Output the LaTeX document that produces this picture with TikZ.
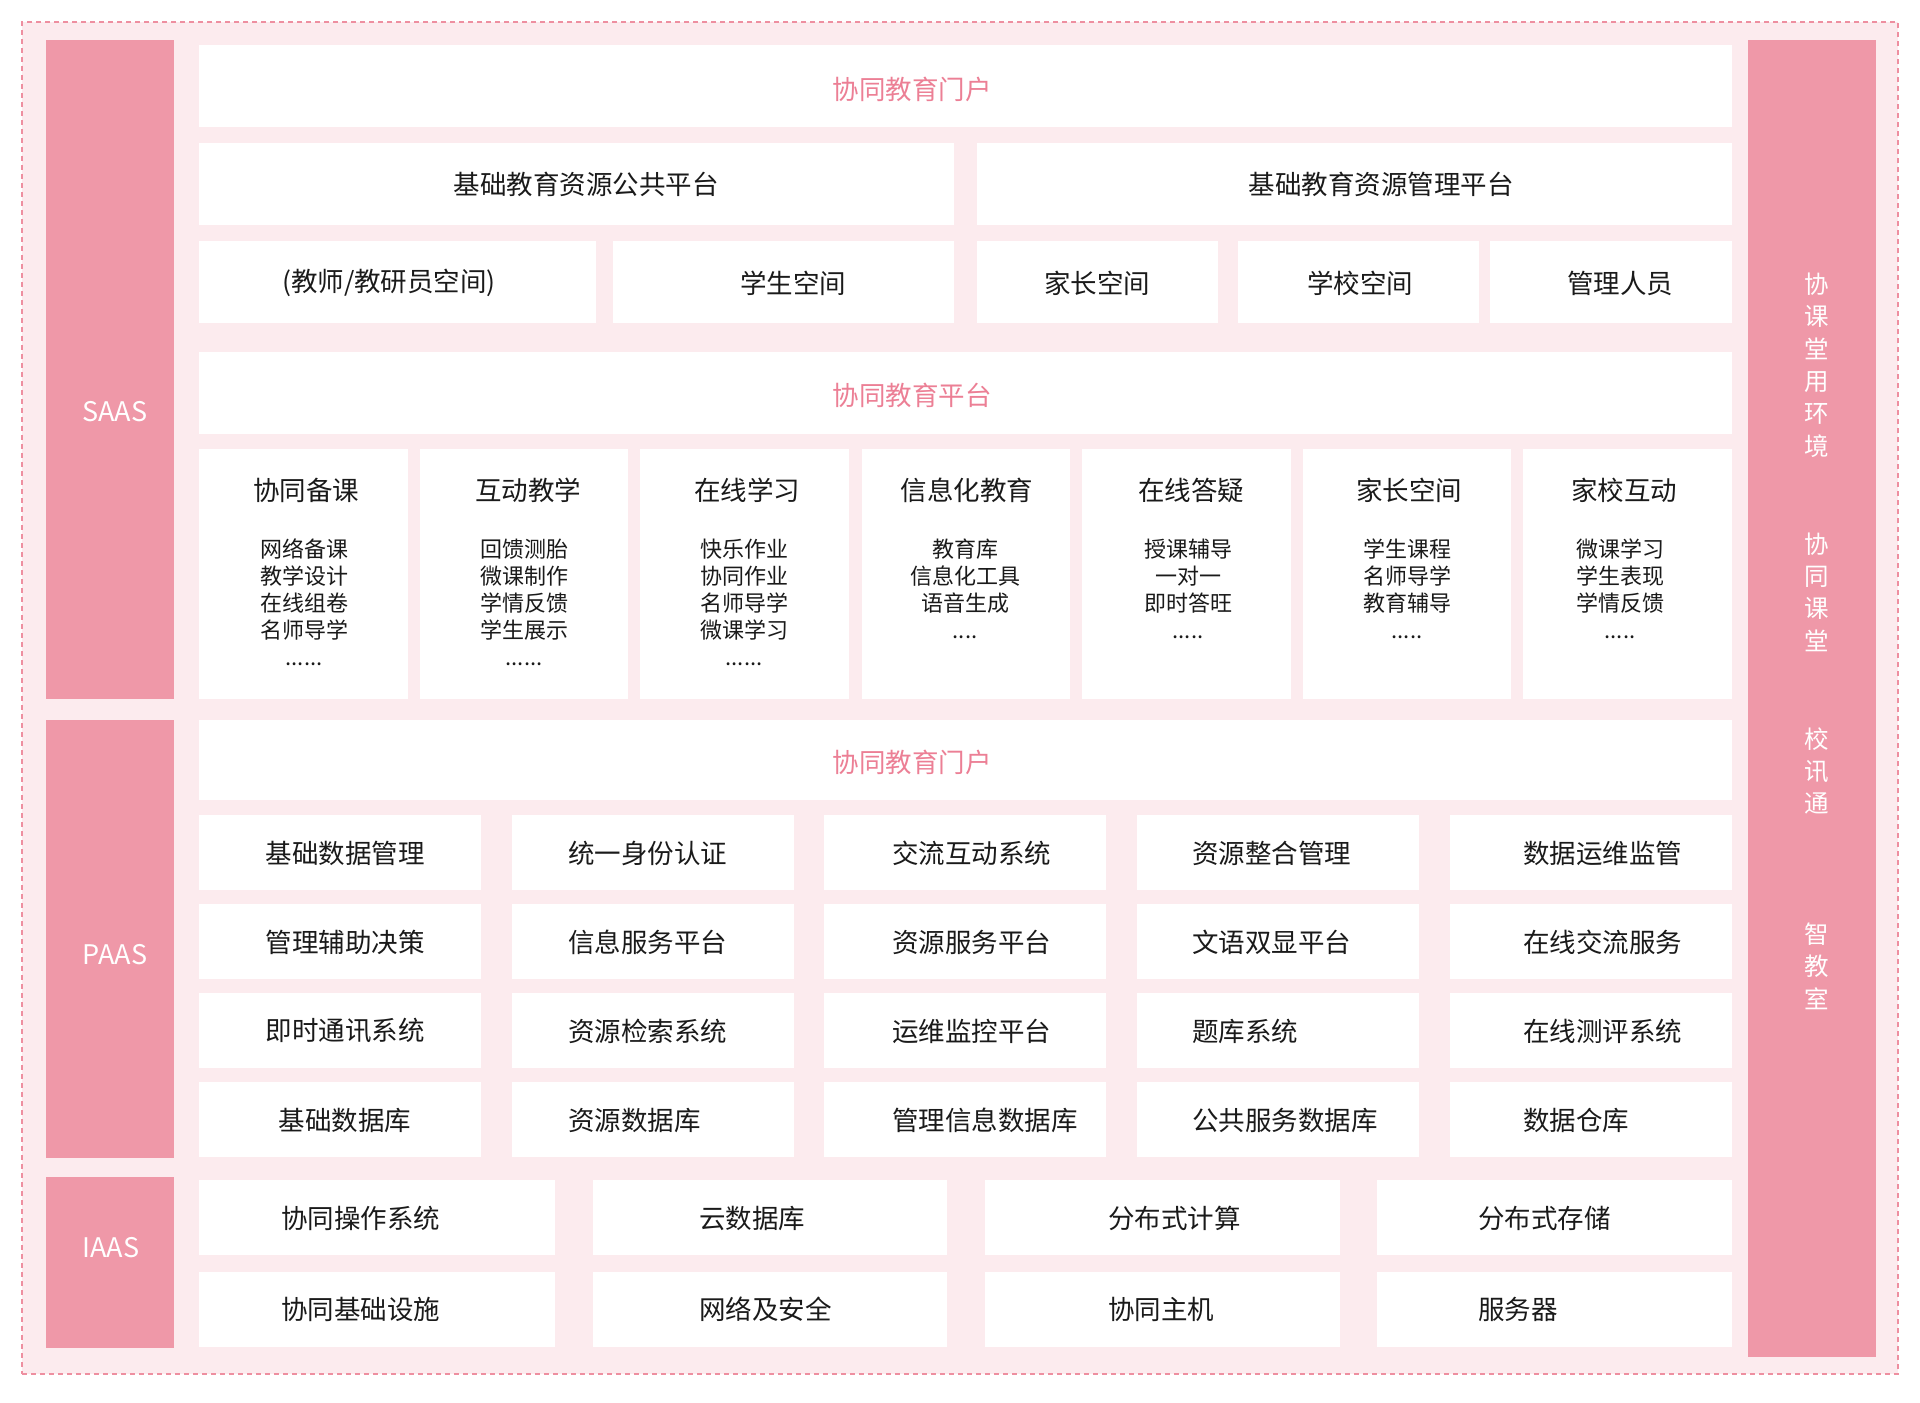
\documentclass[tikz,border=0pt]{standalone}
\usepackage{fontspec}
\setmainfont{Noto Sans CJK SC}
\definecolor{barpink}{HTML}{EF98A8}
\definecolor{bgpink}{HTML}{FCEBEE}
\definecolor{headpink}{HTML}{EC7F95}
\definecolor{dashpink}{HTML}{EE8FA0}
\definecolor{ink}{HTML}{1A1A1A}
\tikzset{
  wbox/.style={fill=white, draw=none, inner sep=0pt, outer sep=0pt, rectangle},
  bar/.style={fill=barpink, draw=none, inner sep=0pt, outer sep=0pt, rectangle},
  frame/.style={fill=bgpink, draw=dashpink, line width=1.2pt, dash pattern=on 5pt off 4pt, inner sep=0pt, rectangle},
  txt/.style={inner sep=0pt, text=ink, font=\fontsize{26.5}{30}\selectfont},
  head/.style={inner sep=0pt, text=headpink, font=\fontsize{26.5}{30}\selectfont},
  ctitle/.style={inner sep=0pt, text=ink, font=\fontsize{26.5}{30}\selectfont},
  citem/.style={inner sep=0pt, text=ink, align=center, font=\fontsize{22}{27}\selectfont},
  barlbl/.style={inner sep=0pt, text=white, font=\fontsize{27}{30}\selectfont},
  vlbl/.style={inner sep=0pt, text=white, align=center, font=\fontsize{24.5}{32.4}\selectfont},
}
\newcommand\mkbox[6][wbox]{\node[#1, minimum width={#5-#3}, minimum height={#6-#4}] (#2) at ({(#3+#5)/2},{(#4+#6)/2}) {};}
\begin{document}
\begin{tikzpicture}[x=1pt,y=-1pt]
\useasboundingbox (0,0) rectangle (1920,1403);
\fill[white] (0,0) rectangle (1920,1403);
\mkbox[frame]{outer}{22}{22}{1898}{1374}

% side bars
\mkbox[bar]{saas}{46}{40}{174}{699}
\mkbox[bar]{paas}{46}{720}{174}{1158}
\mkbox[bar]{iaas}{46}{1177}{174}{1348}
\mkbox[bar]{rbar}{1748}{40}{1876}{1357}
\node[barlbl] (saasl) at (115,412) {SAAS};
\node[barlbl] (paasl) at (115,955) {PAAS};
\node[barlbl] (iaasl) at (111,1248) {IAAS};
\node[vlbl] (v1) at (1817,365) {协\\课\\堂\\用\\环\\境};
\node[vlbl] (v2) at (1817,592) {协\\同\\课\\堂};
\node[vlbl] (v3) at (1817,771) {校\\讯\\通};
\node[vlbl] (v4) at (1817,966) {智\\教\\室};

% SAAS rows
\mkbox{r1}{199}{45}{1732}{127}
\node[head] (r1t) at (912,89) {协同教育门户};
\mkbox{pub}{199}{143}{954}{225}
\mkbox{mgt}{977}{143}{1732}{225}
\node[txt] (pubt) at (586,184) {基础教育资源公共平台};
\node[txt] (mgtt) at (1381,184) {基础教育资源管理平台};
\mkbox{s1}{199}{241}{596}{323}
\mkbox{s2}{613}{241}{954}{323}
\mkbox{s3}{977}{241}{1218}{323}
\mkbox{s4}{1238}{241}{1479}{323}
\mkbox{s5}{1490}{241}{1732}{323}
\node[txt] (s1t) at (389,283) {(教师/教研员空间)};
\node[txt] (s2t) at (793,283) {学生空间};
\node[txt] (s3t) at (1097,283) {家长空间};
\node[txt] (s4t) at (1360,283) {学校空间};
\node[txt] (s5t) at (1620,283) {管理人员};
\mkbox{r4}{199}{352}{1732}{434}
\node[head] (r4t) at (912,395) {协同教育平台};

% cards
\mkbox{c1}{199}{449}{408}{699}
\mkbox{c2}{420}{449}{628}{699}
\mkbox{c3}{640}{449}{849}{699}
\mkbox{c4}{862}{449}{1070}{699}
\mkbox{c5}{1082}{449}{1291}{699}
\mkbox{c6}{1303}{449}{1511}{699}
\mkbox{c7}{1523}{449}{1732}{699}
\node[ctitle] (c1t) at (306,490) {协同备课};
\node[ctitle] (c2t) at (528,490) {互动教学};
\node[ctitle] (c3t) at (747,490) {在线学习};
\node[ctitle] (c4t) at (967,490) {信息化教育};
\node[ctitle] (c5t) at (1191,490) {在线答疑};
\node[ctitle] (c6t) at (1409,490) {家长空间};
\node[ctitle] (c7t) at (1624,490) {家校互动};
\node[citem, anchor=north] (c1i) at (304,539) {网络备课\\教学设计\\在线组卷\\名师导学};
\node[citem, anchor=north] (c2i) at (524,539) {回馈测胎\\微课制作\\学情反馈\\学生展示};
\node[citem, anchor=north] (c3i) at (744,539) {快乐作业\\协同作业\\名师导学\\微课学习};
\node[citem, anchor=north] (c4i) at (965,539) {教育库\\信息化工具\\语音生成};
\node[citem, anchor=north] (c5i) at (1188,539) {授课辅导\\一对一\\即时答旺};
\node[citem, anchor=north] (c6i) at (1407,539) {学生课程\\名师导学\\教育辅导};
\node[citem, anchor=north] (c7i) at (1620,539) {微课学习\\学生表现\\学情反馈};
\node[citem] (c1d) at (304,664) {......};
\node[citem] (c2d) at (524,664) {......};
\node[citem] (c3d) at (744,664) {......};
\node[citem] (c4d) at (965,637) {....};
\node[citem] (c5d) at (1188,637) {.....};
\node[citem] (c6d) at (1407,637) {.....};
\node[citem] (c7d) at (1620,637) {.....};

% PAAS
\mkbox{r6}{199}{720}{1732}{800}
\node[head] (r6t) at (912,762) {协同教育门户};
\foreach \r/\ya/\yb in {1/815/890, 2/904/979, 3/993/1068, 4/1082/1157}{
  \foreach \c/\xa/\xb in {1/199/481, 2/512/794, 3/824/1106, 4/1137/1419, 5/1450/1732}{
    \mkbox{p\r\c}{\xa}{\ya}{\xb}{\yb}
  }
}
\node[txt] (p11t) at (345,853) {基础数据管理};
\node[txt] (p21t) at (345,942) {管理辅助决策};
\node[txt] (p31t) at (345,1031) {即时通讯系统};
\node[txt] (p41t) at (345,1120) {基础数据库};
\node[txt, anchor=west] (p12t) at (568,853) {统一身份认证};
\node[txt, anchor=west] (p22t) at (568,942) {信息服务平台};
\node[txt, anchor=west] (p32t) at (568,1031) {资源检索系统};
\node[txt, anchor=west] (p42t) at (568,1120) {资源数据库};
\node[txt, anchor=west] (p13t) at (892,853) {交流互动系统};
\node[txt, anchor=west] (p23t) at (892,942) {资源服务平台};
\node[txt, anchor=west] (p33t) at (892,1031) {运维监控平台};
\node[txt, anchor=west] (p43t) at (892,1120) {管理信息数据库};
\node[txt, anchor=west] (p14t) at (1192,853) {资源整合管理};
\node[txt, anchor=west] (p24t) at (1192,942) {文语双显平台};
\node[txt, anchor=west] (p34t) at (1192,1031) {题库系统};
\node[txt, anchor=west] (p44t) at (1192,1120) {公共服务数据库};
\node[txt, anchor=west] (p15t) at (1523,853) {数据运维监管};
\node[txt, anchor=west] (p25t) at (1523,942) {在线交流服务};
\node[txt, anchor=west] (p35t) at (1523,1031) {在线测评系统};
\node[txt, anchor=west] (p45t) at (1523,1120) {数据仓库};

% IAAS
\foreach \r/\ya/\yb in {1/1180/1255, 2/1272/1347}{
  \foreach \c/\xa/\xb in {1/199/555, 2/593/947, 3/985/1340, 4/1377/1732}{
    \mkbox{i\r\c}{\xa}{\ya}{\xb}{\yb}
  }
}
\node[txt, anchor=west] (i11t) at (281,1218) {协同操作系统};
\node[txt, anchor=west] (i21t) at (281,1309) {协同基础设施};
\node[txt, anchor=west] (i12t) at (699,1218) {云数据库};
\node[txt, anchor=west] (i22t) at (699,1309) {网络及安全};
\node[txt, anchor=west] (i13t) at (1108,1218) {分布式计算};
\node[txt, anchor=west] (i23t) at (1108,1309) {协同主机};
\node[txt, anchor=west] (i14t) at (1478,1218) {分布式存储};
\node[txt, anchor=west] (i24t) at (1478,1309) {服务器};
\end{tikzpicture}
\end{document}
